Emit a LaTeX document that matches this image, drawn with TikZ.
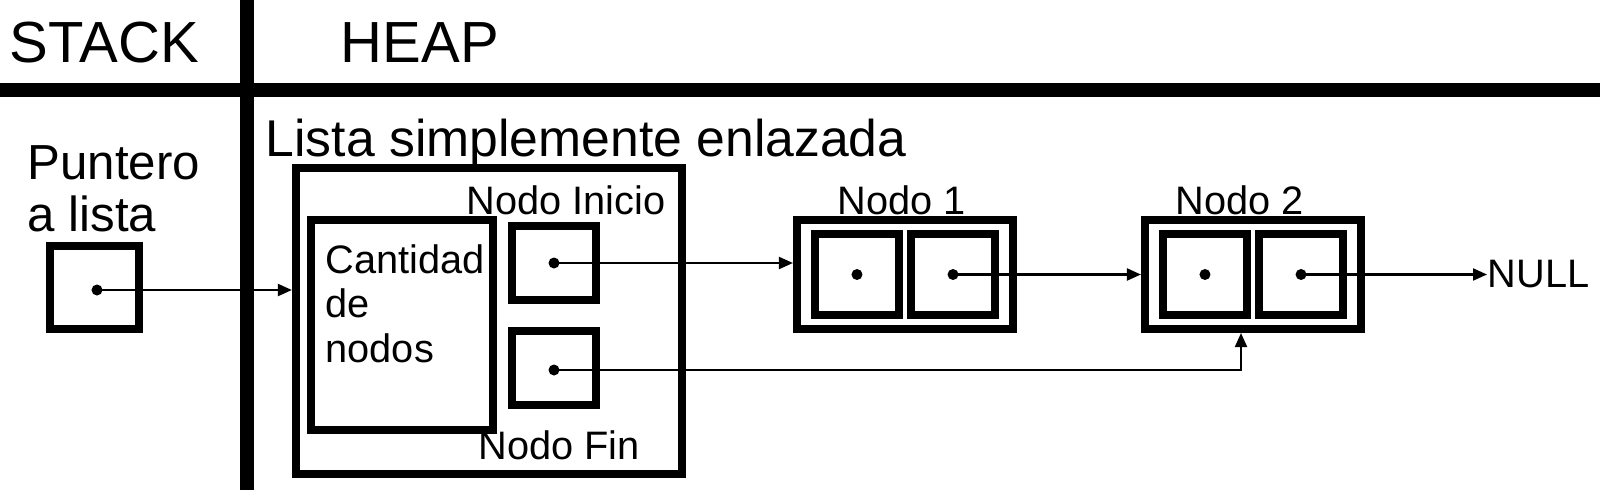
\documentclass[tikz,border=0pt]{standalone}
\usepackage{fontspec}
\setmainfont{Liberation Sans}
\usetikzlibrary{arrows.meta,positioning}

\tikzset{
  box/.style={draw, line width=0.08cm, inner sep=0pt},
  cell/.style={box, minimum width=0.84cm, minimum height=0.81cm},
  ptr/.style={circle, fill, inner sep=0pt, minimum size=0.11cm},
  link/.style={-{Triangle[length=0.14cm,width=0.12cm]}, line width=0.6pt},
  lbl/.style={inner sep=0pt, font=\fontsize{11.3}{12.6}\selectfont},
  title/.style={inner sep=0pt, anchor=base west, font=\fontsize{16.5}{18}\selectfont},
}

\begin{document}
\begin{tikzpicture}[x=0.01cm, y=-0.01cm]
  \useasboundingbox (0,0) rectangle (1600,497);

  % Stack / heap split
  \draw[line width=0.135cm] (0,90) -- (1600,90);
  \draw[line width=0.135cm] (247,0) -- (247,490);
  \node[title] (stack) at (9,62) {STACK};
  \node[title] (heap) at (340,62) {HEAP};

  % Stack pointer
  \node[inner sep=0pt, anchor=base west, align=left,
        font=\fontsize{14}{14.6}\selectfont] (plbl) at (27,231) {Puntero\\a lista};
  \node[box, line width=0.075cm, minimum width=0.89cm, minimum height=0.83cm] (pbox) at (94.5,287.5) {};
  \node[ptr] (pdot) at (97,290) {};

  % List header
  \node[inner sep=0pt, anchor=base west, font=\fontsize{14.7}{16}\selectfont] (ltitle) at (265,156) {Lista simplemente enlazada};
  \node[box, minimum width=3.86cm, minimum height=3.06cm] (list) at (489,321) {};
  \node[box, minimum width=1.82cm, minimum height=2.10cm] (cant) at (402,325) {};
  \node[lbl, anchor=base west, align=left] (cantlbl) at (325,362) {Cantidad\\de\\nodos};
  \node[cell, minimum height=0.74cm] (ini) at (554,263) {};
  \node[cell, minimum height=0.73cm] (fin) at (554,368) {};
  \node[lbl, anchor=base] (inilbl) at (566,214) {Nodo Inicio};
  \node[lbl, anchor=base] (finlbl) at (559,459) {Nodo Fin};
  \node[ptr] (idot) at (ini.center) {};
  \node[ptr] (fdot) at (554,370) {};

  % List nodes
  \foreach \n/\x/\k/\lx in {n1/905/1/902, n2/1253/2/1240} {
    \node[box, minimum width=2.16cm, minimum height=1.09cm] (\n) at (\x,274.5) {};
    \node[cell] (\n-a) at ([xshift=-0.48cm]\n.center) {};
    \node[cell] (\n-b) at ([xshift=0.48cm]\n.center) {};
    \node[ptr] (\n-ad) at (\n-a.center) {};
    \node[ptr] (\n-bd) at (\n-b.center) {};
    \node[lbl, anchor=base] (\n-lbl) at (\lx,214) {Nodo \k};
  }
  \node[lbl, anchor=west] (null) at (1487,274.5) {NULL};

  % Links
  \draw[link] (pdot.center) -- (pdot.center -| list.west);
  \draw[link] (idot.center) -- (idot.center -| n1.west);
  \draw[link] (n1-bd.center) -- (n2.west);
  \draw[link] (n2-bd.center) -- (null.west);
  \draw[link] (fdot.center) -| ([xshift=-0.12cm]n2.south);
\end{tikzpicture}
\end{document}
